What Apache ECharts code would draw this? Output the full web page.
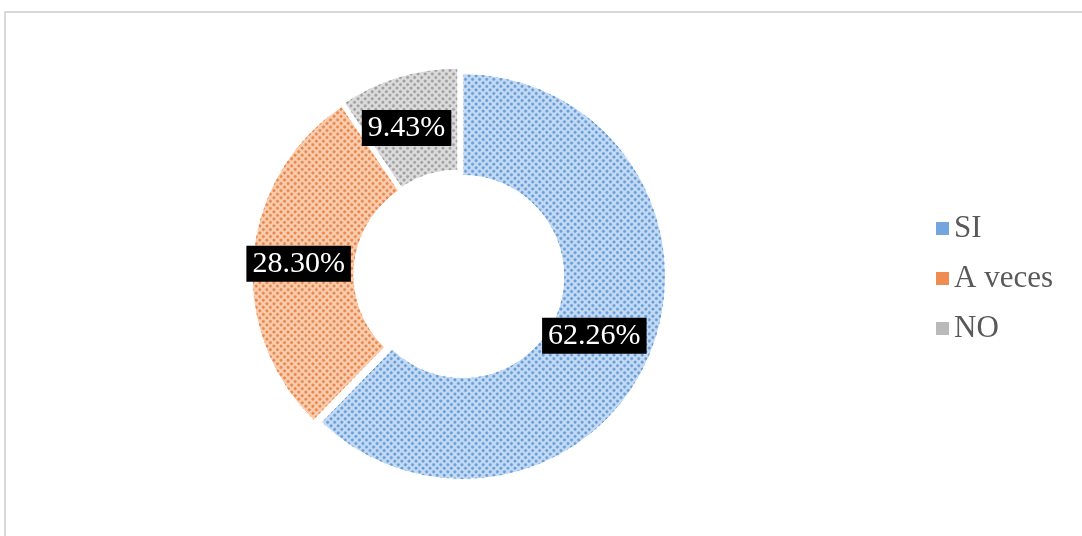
<!DOCTYPE html>
<html>
<head>
<meta charset="utf-8">
<script src="https://cdn.jsdelivr.net/npm/echarts@6/dist/echarts.min.js"></script>
<style>
html,body{margin:0;padding:0;background:#fff;}
#main{width:1082px;height:536px;}
</style>
</head>
<body>
<div id="main"></div>
<script>
var categories = ['SI', 'A veces', 'NO'];
var values = [62.26, 28.30, 9.43];
var baseColors = ['#c4dbf3', '#f8cdb0', '#dcdcdc'];
var dotColors = ['rgba(80,140,210,0.85)', 'rgba(230,115,45,0.85)', 'rgba(145,145,145,0.85)'];
var legendColors = ['#74a5de', '#ef8c52', '#bababa'];
var labelNudge = [[-12, 1], [-2, 3], [-6, 5]];

var chart = echarts.init(document.getElementById('main'));
var data = categories.map(function (c, i) {
  return {
    name: c,
    value: values[i],
    selected: true,
    itemStyle: {
      color: baseColors[i],
      decal: {
        symbol: 'circle',
        symbolSize: 1,
        color: dotColors[i],
        dashArrayX: [3, 2],
        dashArrayY: [3, 2],
        rotation: -Math.PI / 4
      }
    }
  };
});

chart.setOption({
  animation: false,
  graphic: [{
    type: 'rect',
    shape: { x: 5, y: 12, width: 1200, height: 700 },
    style: { fill: 'none', stroke: '#d9d9d9', lineWidth: 2 },
    silent: true
  }],
  legend: {
    orient: 'vertical',
    left: 929,
    top: 208,
    itemWidth: 15,
    itemHeight: 15,
    itemGap: 19,
    icon: 'rect',
    textStyle: { fontFamily: 'Liberation Serif', fontSize: 31, color: '#595959', padding: [0, 0, 0, -1] },
    data: categories.map(function (c, i) {
      return { name: c, itemStyle: { color: legendColors[i], decal: 'none' } };
    })
  },
  series: [{
    type: 'pie',
    center: [459, 275],
    radius: [101, 203],
    startAngle: 90,
    clockwise: true,
    selectedMode: 'multiple',
    selectedOffset: 4,
    avoidLabelOverlap: false,
    emphasis: { disabled: true },
    itemStyle: { borderColor: '#ffffff', borderWidth: 1 },
    label: {
      show: true,
      position: 'inside',
      formatter: function (p) { return p.value.toFixed(2) + '%'; },
      fontFamily: 'Liberation Serif',
      fontSize: 30,
      color: '#ffffff',
      backgroundColor: '#000000',
      padding: [3, 6, 3, 6],
      lineHeight: 30
    },
    labelLayout: function (p) {
      var n = labelNudge[p.dataIndex];
      return { dx: n[0], dy: n[1] };
    },
    labelLine: { show: false },
    data: data
  }]
});
</script>
</body>
</html>
